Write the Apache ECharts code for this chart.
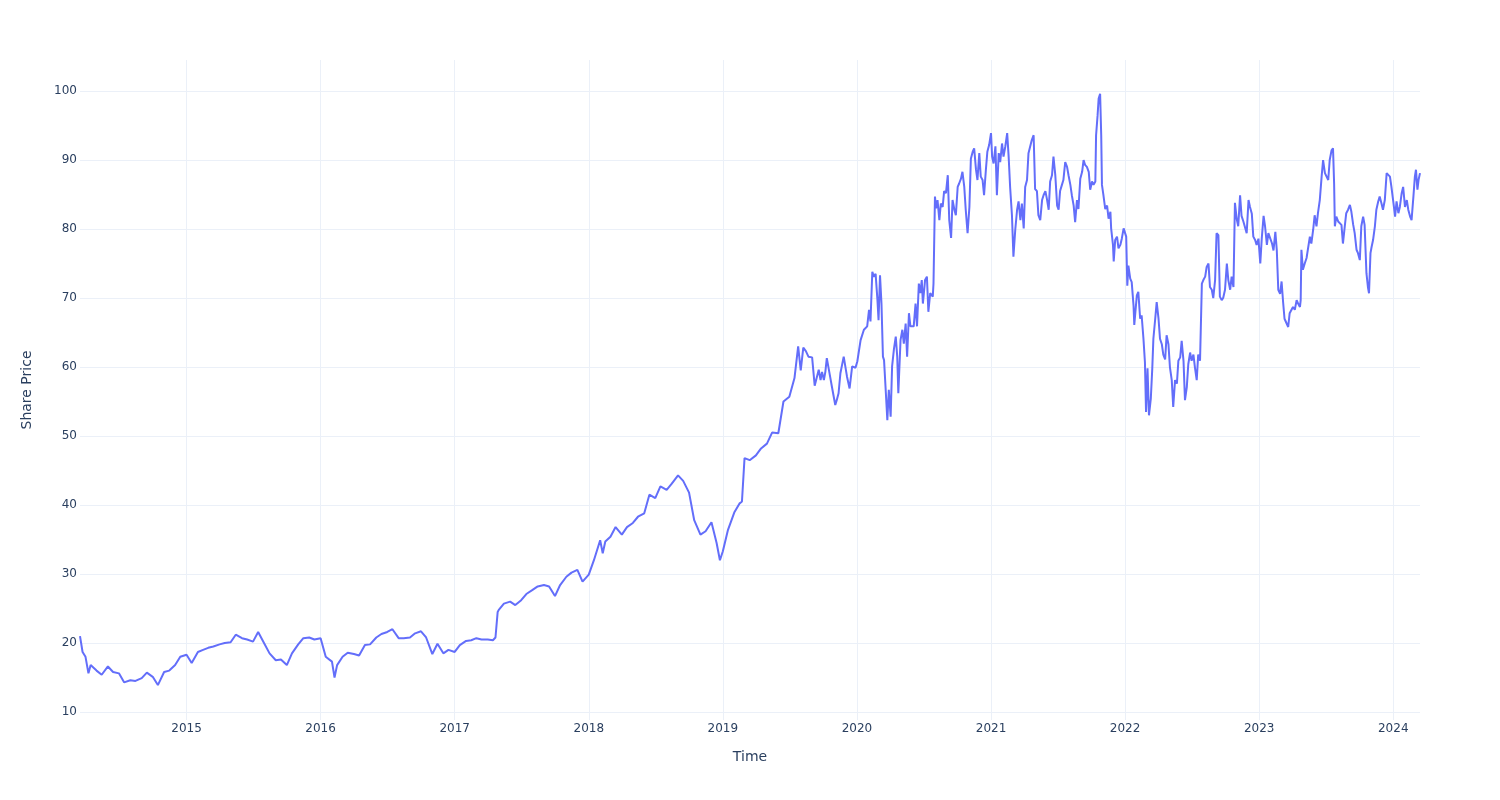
<!DOCTYPE html>
<html>
<head>
<meta charset="utf-8">
<title>Share Price</title>
<script src="https://cdn.jsdelivr.net/npm/echarts@6/dist/echarts.min.js"></script>
<style>
  html, body { margin: 0; padding: 0; background: #fff; }
  #chart { width: 1500px; height: 800px; }
</style>
</head>
<body>
<div id="chart"></div>
<script>
// dates (MM-DD) and prices, one pair of arrays per year
const days2014 = ["03-17","03-24","04-01","04-09","04-15","05-01","05-15","06-01","06-15","07-01","07-15","08-01","08-15","09-01","09-15","10-01","10-15","11-01","11-15","12-01","12-15"];
const price2014 = [21.0,18.7,18.0,15.6,16.8,16.0,15.4,16.6,15.8,15.6,14.3,14.6,14.5,14.9,15.7,15.1,13.9,15.8,16.0,16.8,18.0];

const days2015 = ["01-01","01-15","02-01","02-15","03-01","03-15","04-01","04-15","05-01","05-15","06-01","06-15","07-01","07-15","08-01","08-15","09-01","09-15","10-01","10-15","11-01","11-15","12-01","12-15"];
const price2015 = [18.3,17.1,18.7,19.0,19.3,19.5,19.8,20.0,20.1,21.2,20.7,20.5,20.2,21.6,19.9,18.5,17.5,17.6,16.8,18.5,19.8,20.7,20.8,20.5];

const days2016 = ["01-01","01-15","02-01","02-08","02-15","03-01","03-15","04-01","04-15","05-01","05-15","06-01","06-15","07-01","07-15","08-01","08-15","09-01","09-15","10-01","10-15","11-01","11-15","12-01","12-15"];
const price2016 = [20.7,18.0,17.3,15.0,16.8,18.0,18.6,18.4,18.2,19.7,19.8,20.8,21.3,21.6,22.0,20.7,20.7,20.8,21.4,21.7,20.8,18.4,19.9,18.5,19.0];

const days2017 = ["01-01","01-15","02-01","02-15","03-01","03-15","04-01","04-15","04-22","04-28","05-01","05-15","06-01","06-15","07-01","07-15","08-01","08-15","09-01","09-15","10-01","10-15","11-01","11-15","12-01","12-15"];
const price2017 = [18.7,19.7,20.3,20.4,20.7,20.5,20.5,20.4,20.8,24.5,24.8,25.7,26.0,25.5,26.2,27.1,27.7,28.2,28.4,28.2,26.8,28.4,29.6,30.2,30.6,28.9];

const days2018 = ["01-01","01-15","02-01","02-08","02-15","03-01","03-15","04-01","04-15","05-01","05-15","06-01","06-15","07-01","07-15","08-01","08-15","09-01","09-15","10-01","10-15","11-01","11-15","12-01","12-15","12-24"];
const price2018 = [29.9,32.0,34.9,33.0,34.7,35.4,36.8,35.7,36.8,37.4,38.3,38.8,41.5,41.0,42.7,42.2,43.1,44.3,43.5,41.8,37.8,35.7,36.2,37.5,34.5,32.0];

const days2019 = ["01-01","01-15","02-01","02-15","02-22","03-01","03-15","04-01","04-15","05-01","05-15","06-01","06-15","07-01","07-15","07-25","08-01","08-08","08-15","08-22","09-01","09-08","09-19","09-24","09-28","10-03","10-07","10-11","10-20","10-25","11-03","11-07","11-12","11-17","11-26","12-05","12-12","12-19","12-28"];
const price2019 = [33.3,36.4,38.9,40.2,40.5,46.8,46.5,47.2,48.2,48.9,50.5,50.4,55.0,55.7,58.4,63.0,59.5,62.8,62.3,61.5,61.4,57.3,59.6,58.1,59.3,58.1,59.3,61.3,58.6,57.1,54.5,55.2,56.2,59.1,61.5,58.6,56.9,60.1,59.9];

const days2020 = ["01-02","01-11","01-20","01-29","02-03","02-07","02-12","02-16","02-21","02-26","02-29","03-04","03-08","03-12","03-15","03-20","03-24","03-28","04-02","04-06","04-11","04-16","04-20","04-23","04-29","05-04","05-08","05-13","05-17","05-22","05-26","06-04","06-09","06-13","06-18","06-22","06-26","06-29","07-05","07-10","07-14","07-19","07-26","07-28","08-01","08-04","08-08","08-13","08-17","08-22","08-26","08-31","09-05","09-09","09-14","09-18","09-23","09-27","10-02","10-06","10-11","10-15","10-20","10-24","10-29","11-03","11-07","11-12","11-16","11-21","11-25","11-30","12-04","12-09","12-13","12-18","12-22","12-27"];
const price2020 = [60.8,63.9,65.4,65.9,68.3,66.6,73.8,73.1,73.5,69.7,66.8,73.3,69.2,61.5,61.0,56.2,52.3,56.7,52.8,60.1,62.6,64.4,61.5,56.2,63.9,65.4,63.4,66.3,61.5,67.8,65.9,65.9,69.2,65.9,72.1,70.7,72.6,69.2,72.6,73.1,68.0,70.7,70.2,72.1,84.7,83.0,84.2,81.3,83.7,83.2,85.5,85.2,87.8,81.3,78.7,84.2,82.8,82.0,86.1,86.6,87.3,88.3,86.1,82.8,79.4,83.2,90.2,91.2,91.7,88.6,87.1,91.0,87.6,87.1,84.9,88.6,91.2,92.2];

const days2021 = ["01-01","01-04","01-08","01-13","01-17","01-22","01-26","01-31","02-04","02-09","02-14","02-18","02-22","02-27","03-03","03-08","03-13","03-17","03-22","03-26","03-31","04-04","04-09","04-13","04-18","04-22","04-27","05-01","05-06","05-10","05-15","05-20","05-24","05-29","06-02","06-07","06-11","06-16","06-20","06-25","06-30","07-04","07-08","07-13","07-17","07-22","07-27","07-31","08-05","08-09","08-14","08-18","08-23","08-27","09-01","09-06","09-10","09-14","09-19","09-24","09-28","10-03","10-07","10-12","10-14","10-18","10-21","10-25","10-28","10-30","11-03","11-08","11-13","11-17","11-22","11-24","11-29","12-01","12-05","12-10","12-14","12-19","12-23","12-28"];
const price2021 = [93.9,90.5,89.5,92.0,84.9,91.0,89.7,92.4,90.5,92.0,93.9,90.5,86.1,82.0,76.0,79.9,82.8,84.0,81.3,83.7,80.1,86.1,87.1,91.0,91.2,92.9,93.6,85.8,85.5,82.0,81.3,84.2,84.9,85.5,84.4,82.8,86.9,87.8,90.5,87.8,83.4,82.8,85.5,86.4,87.1,89.7,89.0,87.8,86.4,84.9,83.4,81.0,84.2,82.9,87.3,88.3,90.0,89.3,89.0,88.3,85.7,86.9,86.4,86.9,93.6,96.4,98.9,99.6,93.6,86.4,84.9,82.9,83.4,81.5,82.5,80.1,77.7,75.3,78.4,78.9,77.2,77.7,78.6,80.1];

const days2022 = ["01-01","01-04","01-07","01-10","01-15","01-19","01-24","01-26","02-02","02-06","02-11","02-15","02-20","02-24","02-27","03-03","03-07","03-12","03-16","03-19","03-24","03-28","04-02","04-06","04-11","04-15","04-20","04-24","04-29","05-03","05-08","05-12","05-17","05-22","05-26","05-31","06-04","06-09","06-13","06-18","06-22","06-27","07-01","07-06","07-10","07-15","07-19","07-24","07-29","08-02","08-07","08-11","08-16","08-20","08-25","08-29","09-03","09-07","09-12","09-16","09-21","09-25","09-30","10-05","10-09","10-14","10-18","10-23","10-27","11-01","11-05","11-10","11-14","11-19","11-23","11-28","12-03","12-07","12-12","12-16","12-21","12-25","12-30"];
const price2022 = [80.1,78.9,71.8,74.7,72.8,72.3,68.9,66.1,70.4,70.9,67.0,67.5,64.1,60.7,53.5,59.8,53.0,55.4,59.8,64.1,67.0,69.4,67.0,64.1,63.3,61.8,61.1,64.6,63.3,60.0,58.1,54.2,58.1,57.6,60.9,61.4,63.8,60.9,55.2,57.1,60.4,62.1,60.9,61.8,60.0,58.1,61.8,60.9,72.1,72.6,73.1,74.5,75.0,71.6,71.2,70.0,72.6,79.4,79.1,70.2,69.7,70.0,71.2,75.0,72.6,71.2,73.1,71.6,83.8,81.4,80.4,84.9,81.9,81.1,80.9,79.4,84.2,83.2,82.2,78.9,78.4,77.7,78.6];

const days2023 = ["01-04","01-08","01-13","01-17","01-22","01-26","01-31","02-05","02-09","02-14","02-18","02-22","02-27","03-03","03-07","03-11","03-14","03-21","03-25","03-30","04-03","04-08","04-13","04-17","04-22","04-24","04-26","04-30","05-05","05-10","05-14","05-19","05-23","05-28","06-01","06-06","06-10","06-15","06-20","06-24","06-29","07-03","07-08","07-12","07-17","07-21","07-24","07-26","07-30","08-04","08-08","08-13","08-17","08-22","08-26","08-31","09-05","09-09","09-14","09-18","09-23","09-27","10-02","10-06","10-11","10-15","10-20","10-24","10-27","10-31","11-03","11-07","11-12","11-16","11-21","11-25","11-30","12-04","12-09","12-14","12-18","12-23","12-27"];
const price2023 = [75.0,78.6,81.9,80.4,77.7,79.4,79.6,77.9,76.9,79.6,76.9,71.2,70.6,72.4,69.5,67.0,66.8,65.8,67.8,68.3,68.7,68.3,69.7,69.2,68.7,69.7,77.0,74.1,75.0,75.8,76.0,78.9,77.9,79.9,82.0,80.4,82.3,84.2,87.6,90.0,88.1,88.1,87.1,90.0,91.4,91.7,86.6,80.4,81.8,81.1,81.3,80.6,77.9,80.4,82.3,82.8,83.5,82.5,80.6,79.4,77.0,76.5,75.5,80.4,81.8,80.6,73.6,71.6,70.7,76.5,77.4,78.4,80.4,82.8,84.0,84.7,83.7,82.8,84.2,88.1,88.3,87.6,86.1];

const days2024 = ["01-01","01-06","01-10","01-15","01-19","01-24","01-28","02-02","02-07","02-11","02-16","02-20","02-25","02-29","03-03","03-07","03-10","03-14"];
const price2024 = [84.0,81.8,84.0,82.3,83.2,85.2,86.1,83.2,84.2,82.8,81.8,81.3,84.7,87.6,88.6,85.7,87.1,88.1];

const yearTicks = [2015, 2016, 2017, 2018, 2019, 2020, 2021, 2022, 2023, 2024];
const priceTicks = [10, 20, 30, 40, 50, 60, 70, 80, 90, 100];

const years = {
  2014: [days2014, price2014], 2015: [days2015, price2015], 2016: [days2016, price2016],
  2017: [days2017, price2017], 2018: [days2018, price2018], 2019: [days2019, price2019],
  2020: [days2020, price2020], 2021: [days2021, price2021], 2022: [days2022, price2022],
  2023: [days2023, price2023], 2024: [days2024, price2024]
};

// date -> fractional year, so the axis can tick on Jan 1 of every year
function toYear(str) {
  const [y, m, d] = str.split("-").map(Number);
  const a = Date.UTC(y, 0, 1), b = Date.UTC(y + 1, 0, 1);
  return y + (Date.UTC(y, m - 1, d) - a) / (b - a);
}

const seriesData = [];
Object.keys(years).forEach(function (y) {
  const [days, prices] = years[y];
  days.forEach(function (md, i) {
    seriesData.push([toYear(y + "-" + md), prices[i]]);
  });
});

const textColor = "#2a3f5f";
const gridColor = "#ebf0f8";
const font = "'DejaVu Sans', Verdana, Arial, sans-serif";

const chart = echarts.init(document.getElementById("chart"));
chart.setOption({
  animation: false,
  backgroundColor: "#fff",
  grid: { left: 80, right: 80, top: 60, bottom: 80, containLabel: false },
  xAxis: {
    type: "value",
    min: toYear("2014-03-17"),
    max: toYear("2024-03-14"),
    splitNumber: yearTicks.length,
    minInterval: 1,
    maxInterval: 1,
    name: "Time",
    nameLocation: "middle",
    nameGap: 30,
    nameTextStyle: { color: textColor, fontSize: 14, fontFamily: font },
    axisLine: { show: false },
    axisTick: { show: false },
    axisLabel: {
      color: textColor, fontSize: 12, fontFamily: font, margin: 3,
      showMinLabel: false, showMaxLabel: false,
      formatter: function (v) { return yearTicks.indexOf(Math.round(v)) >= 0 ? String(Math.round(v)) : ""; }
    },
    splitLine: { show: true, showMinLine: false, showMaxLine: false, lineStyle: { color: gridColor, width: 1 } }
  },
  yAxis: {
    type: "value",
    min: 8.84,
    max: 104.5,
    splitNumber: priceTicks.length,
    minInterval: 10,
    maxInterval: 10,
    name: "Share Price",
    nameLocation: "middle",
    nameGap: 46,
    nameTextStyle: { color: textColor, fontSize: 14, fontFamily: font },
    axisLine: { show: false },
    axisTick: { show: false },
    axisLabel: {
      color: textColor, fontSize: 12, fontFamily: font, margin: 3,
      showMinLabel: false, showMaxLabel: false,
      formatter: function (v) { return priceTicks.indexOf(Math.round(v)) >= 0 ? String(Math.round(v)) : ""; }
    },
    splitLine: { show: true, showMinLine: false, showMaxLine: false, lineStyle: { color: gridColor, width: 1 } }
  },
  series: [
    {
      type: "line",
      data: seriesData,
      showSymbol: false,
      sampling: null,
      lineStyle: { color: "#636efa", width: 2 },
      itemStyle: { color: "#636efa" }
    }
  ]
});
</script>
</body>
</html>
